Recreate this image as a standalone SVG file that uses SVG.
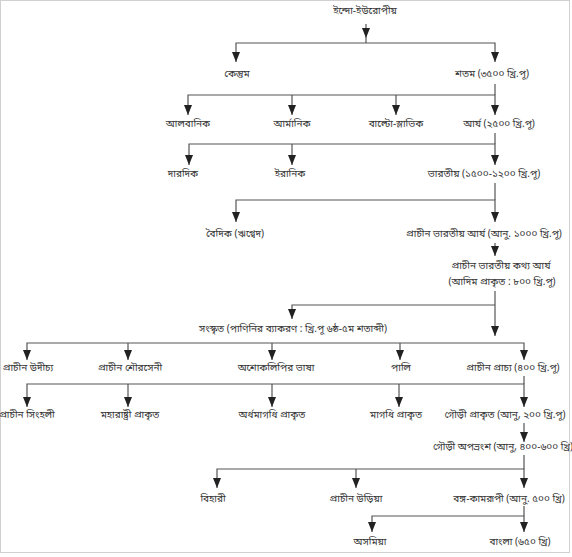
<svg xmlns="http://www.w3.org/2000/svg" width="572" height="557" viewBox="0 0 572 557">
<style>
text{font-family:"Noto Sans Bengali","Noto Sans","Lohit Bengali",sans-serif;font-size:10px;fill:#333;text-anchor:middle}
.c line,.c path{stroke:#555;stroke-width:1.2;fill:none}
.c polygon{fill:#222;stroke:none}
.frame{fill:none;stroke:#d0d0d0;stroke-width:1}
</style>
<defs>
<marker id="ah" viewBox="0 0 10 8" refX="10" refY="4" markerWidth="10" markerHeight="8" markerUnits="userSpaceOnUse" orient="auto-start-reverse">
<path d="M0,0 L10,4 L0,8 Z" fill="#222" stroke="none"/>
</marker>
</defs>
<rect class="frame" x="0.5" y="0.5" width="569" height="552"/>
<g class="c" id="connectors">
<line x1="366" y1="24" x2="366" y2="43"/>
<polygon points="362,28 370,28 366,38"/>
<path d="M236,62 V43 H495 V62" marker-start="url(#ah)" marker-end="url(#ah)"/>
<line x1="495" y1="84" x2="495" y2="95"/>
<path d="M188,115 V95 H495 V115" marker-start="url(#ah)" marker-end="url(#ah)"/>
<line x1="292" y1="95" x2="292" y2="115" marker-end="url(#ah)"/>
<line x1="396" y1="95" x2="396" y2="115" marker-end="url(#ah)"/>
<line x1="495" y1="133" x2="495" y2="144"/>
<path d="M189,165 V144 H495 V165" marker-start="url(#ah)" marker-end="url(#ah)"/>
<line x1="292" y1="144" x2="292" y2="165" marker-end="url(#ah)"/>
<line x1="495" y1="183" x2="495" y2="200"/>
<path d="M236,222 V200 H495 V222" marker-start="url(#ah)" marker-end="url(#ah)"/>
<line x1="495" y1="243" x2="495" y2="256" marker-end="url(#ah)"/>
<line x1="495" y1="291" x2="495" y2="336" marker-end="url(#ah)"/>
<path d="M495,305 H292 V319" marker-end="url(#ah)"/>
<path d="M27,360 V343 H524 V360" marker-start="url(#ah)" marker-end="url(#ah)"/>
<line x1="128" y1="343" x2="128" y2="360" marker-end="url(#ah)"/>
<line x1="272" y1="343" x2="272" y2="360" marker-end="url(#ah)"/>
<line x1="400" y1="343" x2="400" y2="360" marker-end="url(#ah)"/>
<line x1="524" y1="376" x2="524" y2="384"/>
<path d="M27,407 V384 H524 V407" marker-start="url(#ah)" marker-end="url(#ah)"/>
<line x1="128" y1="384" x2="128" y2="407" marker-end="url(#ah)"/>
<line x1="272" y1="384" x2="272" y2="407" marker-end="url(#ah)"/>
<line x1="399" y1="384" x2="399" y2="407" marker-end="url(#ah)"/>
<line x1="524" y1="423" x2="524" y2="442" marker-end="url(#ah)"/>
<line x1="524" y1="455" x2="524" y2="469"/>
<path d="M217,488 V469 H524 V488" marker-start="url(#ah)" marker-end="url(#ah)"/>
<line x1="356" y1="469" x2="356" y2="488" marker-end="url(#ah)"/>
<line x1="524" y1="506" x2="524" y2="516"/>
<path d="M372,532 V516 H524 V532" marker-start="url(#ah)" marker-end="url(#ah)"/>
</g>
<g id="n-indo"><text x="365" y="14">ইন্দো-ইউরোপীয়</text></g>
<g id="n-kentum"><text x="237" y="77">কেন্তুম</text></g>
<g id="n-satem"><text x="492" y="77">শতম (৩৫০০ খ্রি.পূ)</text></g>
<g id="n-albanik"><text x="188" y="127">আলবানিক</text></g>
<g id="n-armanik"><text x="292" y="127">আর্মানিক</text></g>
<g id="n-balto"><text x="396" y="127">বাল্টো-স্লাভিক</text></g>
<g id="n-arya"><text x="499" y="127">আর্য (২৫০০ খ্রি.পূ)</text></g>
<g id="n-dardik"><text x="183" y="177">দারদিক</text></g>
<g id="n-iranik"><text x="290" y="177">ইরানিক</text></g>
<g id="n-bharatiya"><text x="484" y="177">ভারতীয় (১৫০০-১২০০ খ্রি.পূ)</text></g>
<g id="n-vaidik"><text x="235" y="237">বৈদিক (ঋগ্বেদ)</text></g>
<g id="n-pba"><text x="484" y="237">প্রাচীন ভারতীয় আর্য (আনু. ১০০০ খ্রি.পূ)</text></g>
<g id="n-pbka"><text x="501" y="269">প্রাচীন ভারতীয় কথ্য আর্য</text><text x="502" y="285">(আদিম প্রাকৃত : ৮০০ খ্রি.পূ)</text></g>
<g id="n-sanskrit"><text x="293" y="332">সংস্কৃত (পাণিনির ব্যাকরণ : খ্রি.পূ ৬ষ্ঠ-৫ম শতাব্দী)</text></g>
<g id="n-udichya"><text x="28" y="371">প্রাচীন উদীচ্য</text></g>
<g id="n-shauraseni"><text x="130" y="371">প্রাচীন শৌরসেনী</text></g>
<g id="n-ashoka"><text x="276" y="371">অশোকলিপির ভাষা</text></g>
<g id="n-pali"><text x="401" y="371">পালি</text></g>
<g id="n-prachya"><text x="513" y="371">প্রাচীন প্রাচ্য (৪০০ খ্রি.পূ)</text></g>
<g id="n-sinhali"><text x="27" y="418">প্রাচীন সিংহলী</text></g>
<g id="n-maharashtri"><text x="130" y="418">মহারাষ্ট্রী প্রাকৃত</text></g>
<g id="n-ardhamagadhi"><text x="272" y="418">অর্ধমাগধি প্রাকৃত</text></g>
<g id="n-magadhi"><text x="396" y="418">মাগধি প্রাকৃত</text></g>
<g id="n-gaudi-prakrit"><text x="505" y="418">গৌড়ী প্রাকৃত (আনু, ২০০ খ্রি.পূ)</text></g>
<g id="n-gaudi-apabhramsha"><text x="503" y="450">গৌড়ী অপভ্রংশ (আনু, ৪০০-৬০০ খ্রি)</text></g>
<g id="n-bihari"><text x="213" y="502">বিহারী</text></g>
<g id="n-oriya"><text x="356" y="502">প্রাচীন উড়িয়া</text></g>
<g id="n-kamrupi"><text x="509" y="502">বঙ্গ-কামরূপী (আনু. ৫০০ খ্রি)</text></g>
<g id="n-asamiya"><text x="370" y="545">অসমিয়া</text></g>
<g id="n-bangla"><text x="520" y="545">বাংলা (৬৫০ খ্রি)</text></g>
</svg>
